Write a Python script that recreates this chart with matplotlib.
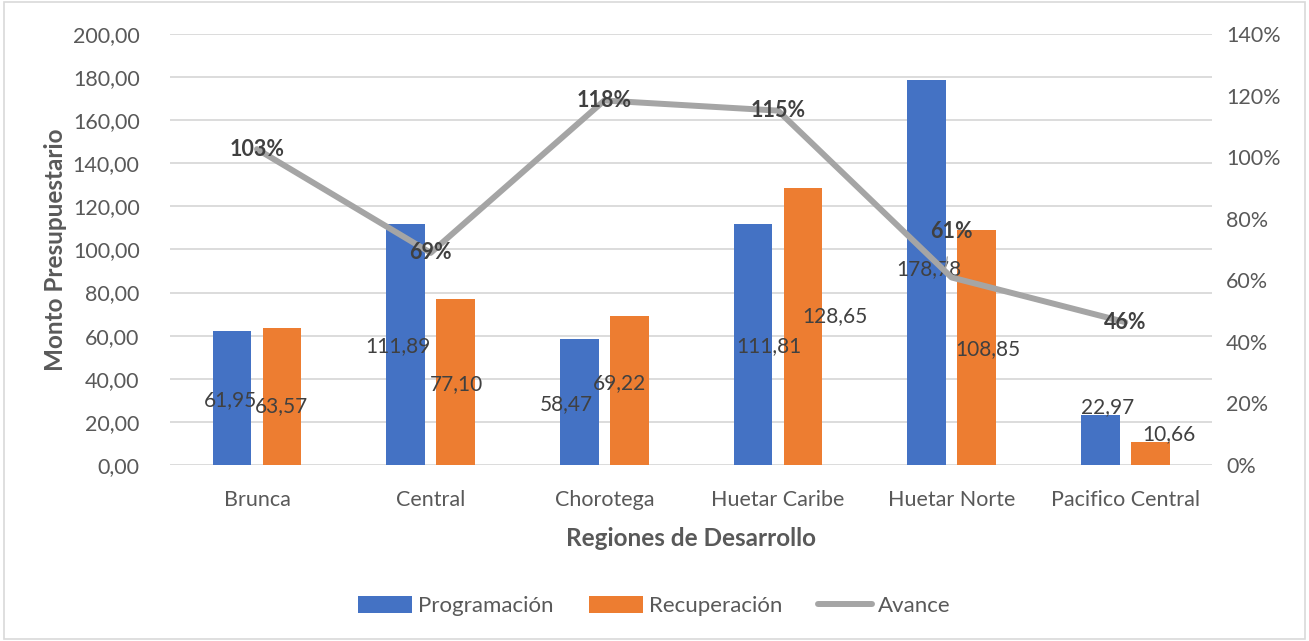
import numpy as np
import matplotlib.pyplot as plt
from matplotlib.patches import Rectangle

plt.rcParams['font.family'] = ['Lato', 'DejaVu Sans']

regiones = ['Brunca', 'Central', 'Chorotega', 'Huetar Caribe', 'Huetar Norte', 'Pacifico Central']
programacion = [61.95, 111.89, 58.47, 111.81, 178.78, 22.97]
recuperacion = [63.57, 77.10, 69.22, 128.65, 108.85, 10.66]
avance = [1.026, 0.689, 1.184, 1.151, 0.609, 0.464]

# where Excel dropped the value labels (category units, left-axis units)
lab_prog_x = [-0.15, -0.19, -0.22, -0.05, -0.13, -0.10]
lab_prog_y = [30.2, 55.2, 28.3, 55.2, 91.0, 26.9]
lab_rec_x = [0.14, 0.15, 0.09, 0.33, 0.21, 0.25]
lab_rec_y = [27.4, 37.6, 38.1, 69.1, 53.8, 14.4]

def fmt(v):
    return f'{v:.2f}'.replace('.', ',')

text_c = '#595959'
blue = '#4472C4'
orange = '#ED7D31'
gray = '#A5A5A5'

fig = plt.figure(figsize=(13.09, 6.41), dpi=100)
fig.add_artist(Rectangle((0.003, 0.003), 0.994, 0.994, transform=fig.transFigure,
                         fill=False, edgecolor='#D9D9D9', lw=1.2))
ax = fig.add_axes([0.130, 0.2746, 0.796, 0.6724])
x = np.arange(len(regiones))
w = 0.224
ax.bar(x - 0.144, programacion, w, color=blue, label='Programación', zorder=2)
ax.bar(x + 0.144, recuperacion, w, color=orange, label='Recuperación', zorder=2)

for i in range(len(regiones)):
    ax.text(i + lab_prog_x[i], lab_prog_y[i], fmt(programacion[i]), ha='center', va='center',
            fontsize=15, color='#404040', zorder=5)
    ax.text(i + lab_rec_x[i], lab_rec_y[i], fmt(recuperacion[i]), ha='center', va='center',
            fontsize=15, color='#404040', zorder=5)

ax.set_xlim(-0.5, len(regiones) - 0.5)
ax.set_ylim(0, 200)
ax.set_yticks(np.arange(0, 201, 20))
ax.set_yticklabels([fmt(v) for v in np.arange(0, 201, 20)])
ax.set_xticks(x)
ax.set_xticklabels(regiones)
ax.grid(axis='y', color='#D9D9D9', lw=1.3, zorder=0)
ax.set_axisbelow(True)
for s in ax.spines.values():
    s.set_visible(False)
ax.tick_params(length=0, labelsize=15.5, colors=text_c)
ax.tick_params(axis='y', pad=22)
ax.tick_params(axis='x', pad=18)
ax.set_ylabel('Monto Presupuestario', fontsize=17.5, fontweight='bold', color=text_c, labelpad=4)
ax.set_xlabel('Regiones de Desarrollo', fontsize=17.5, fontweight='bold', color=text_c, labelpad=12)

ax2 = ax.twinx()
ax2.plot(x, avance, color=gray, lw=4.3, label='Avance', zorder=3, solid_capstyle='round')
ax2.set_ylim(0, 1.4)
ax2.set_yticks(np.arange(0, 1.41, 0.2))
ax2.set_yticklabels([f'{int(round(v * 100))}%' for v in np.arange(0, 1.41, 0.2)])
for s in ax2.spines.values():
    s.set_visible(False)
ax2.tick_params(length=0, labelsize=15.5, colors=text_c, pad=10)

for i, v in enumerate(avance):
    lbl = f'{int(round(v * 100))}%'
    if i == 4:
        ax2.annotate(lbl, xy=(i - 0.04, v + 0.015), xytext=(i, v + 0.15),
                     ha='center', va='center', fontsize=15.5, fontweight='bold', color='#404040',
                     arrowprops=dict(arrowstyle='-', color=gray, lw=1, shrinkA=9, shrinkB=0))
    else:
        ax2.text(i, v, lbl, ha='center', va='center', fontsize=15.5, fontweight='bold', color='#404040')

h1, l1 = ax.get_legend_handles_labels()
h2, l2 = ax2.get_legend_handles_labels()
fig.legend(h1 + h2, l1 + l2, loc='center', bbox_to_anchor=(0.5, 0.055), ncol=3, frameon=False,
           fontsize=16, labelcolor=text_c, handlelength=2.4, handleheight=0.8, handletextpad=0.3,
           columnspacing=1.6)

fig.savefig('out.png', dpi=100)
